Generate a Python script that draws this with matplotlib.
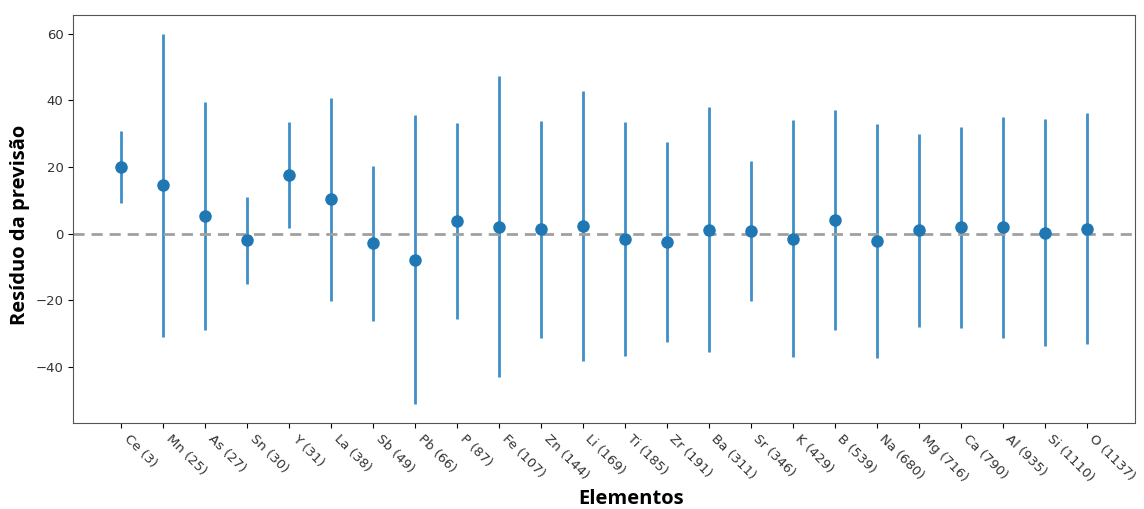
import matplotlib
matplotlib.use("Agg")
import matplotlib.pyplot as plt
import numpy as np

# Residuals per element (number of samples in brackets)
elements = ["Ce", "Mn", "As", "Sn", "Y", "La", "Sb", "Pb", "P", "Fe", "Zn", "Li",
            "Ti", "Zr", "Ba", "Sr", "K", "B", "Na", "Mg", "Ca", "Al", "Si", "O"]
counts = [3, 25, 27, 30, 31, 38, 49, 66, 87, 107, 144, 169,
          185, 191, 311, 346, 429, 539, 680, 716, 790, 935, 1110, 1137]
mean_resid = [19.9, 14.6, 5.2, -2.0, 17.6, 10.3, -2.9, -7.9, 3.8, 2.1, 1.3, 2.3,
              -1.6, -2.6, 1.2, 0.7, -1.6, 4.2, -2.2, 1.0, 1.9, 1.9, 0.3, 1.5]
std_resid = [10.8, 45.5, 34.2, 13.1, 15.9, 30.4, 23.2, 43.4, 29.4, 45.2, 32.6, 40.6,
             35.2, 30.0, 36.9, 21.0, 35.6, 33.0, 35.1, 29.0, 30.1, 33.2, 34.1, 34.6]

labels = [f"{e} ({n})" for e, n in zip(elements, counts)]
x = np.arange(len(elements))

plt.rcParams["font.family"] = ["DejaVu Sans"]

fig = plt.figure(figsize=(11.44, 5.09), dpi=100)
ax = fig.add_axes([0.064, 0.169, 0.928, 0.8015])

ax.errorbar(x, mean_resid, yerr=std_resid, fmt="o", color="#1f77b4",
            ecolor="#3f8fc8", elinewidth=2, markersize=8)
ax.axhline(0, color="#a0a0a0", linestyle="--", linewidth=2, dashes=(4, 2.5))

ax.set_xticks(x)
ax.set_xticklabels(labels, rotation=-45, ha="left", fontsize=9.5, color="#333333")
ax.tick_params(axis="y", labelsize=9.5, labelcolor="#333333")
ax.set_xlabel("Elementos", fontsize=14.5, fontweight="bold", family="Open Sans")
ax.set_ylabel("Resíduo da previsão", fontsize=14.5, fontweight="bold", family="Open Sans")
ax.xaxis.set_label_coords(0.525, -0.163)
ax.yaxis.set_label_coords(-0.041, 0.485)

for s in ax.spines.values():
    s.set_color("#555555")

fig.savefig("out.png", dpi=100)
